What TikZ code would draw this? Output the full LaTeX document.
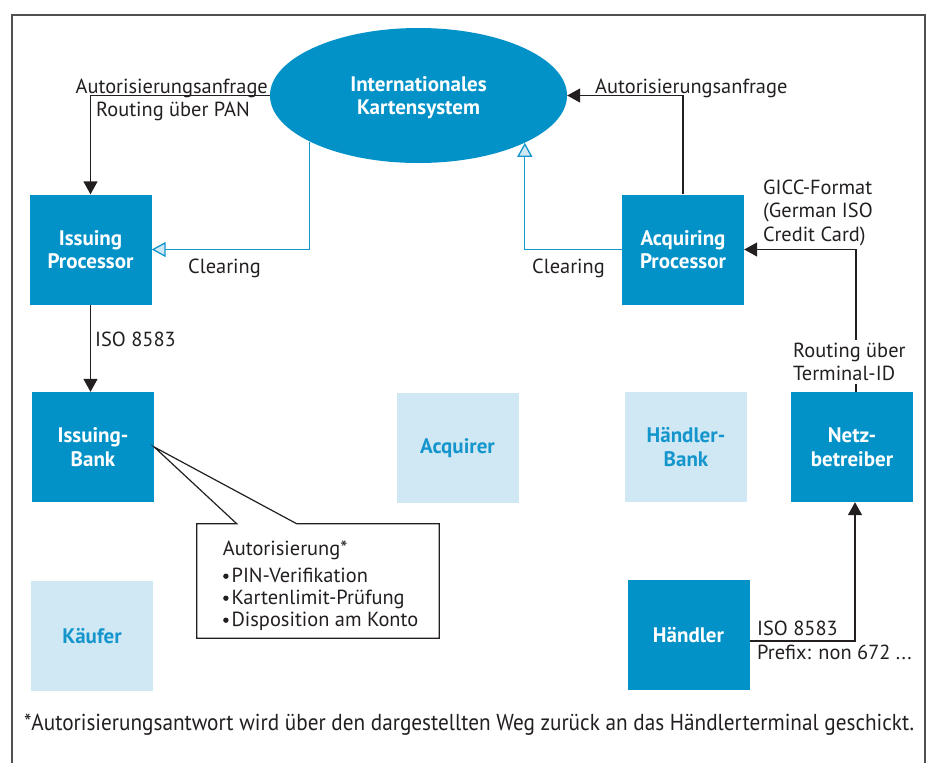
\documentclass[tikz,border=0pt]{standalone}
\usepackage{fontspec}
\setmainfont{PT Sans}
\usetikzlibrary{arrows.meta,calc,backgrounds,shapes.geometric}
\definecolor{dblue}{RGB}{3,146,200}
\definecolor{lblue}{RGB}{208,232,244}
\definecolor{tblue}{RGB}{20,150,205}
\definecolor{framecol}{RGB}{80,80,80}
\definecolor{ink}{RGB}{35,31,32}
\newcommand{\mybul}{\tikz[baseline=-6.5pt,x=1pt,y=1pt]\fill[ink] (0,0) circle (2.7pt);\hspace{3pt}}
\begin{document}
\begin{tikzpicture}[x=1pt,y=-1pt,
  box/.style={rectangle, minimum width=122pt, minimum height=110pt, inner sep=0pt, align=center, font=\fontsize{21}{23.5}\selectfont\bfseries},
  darkbox/.style={box, fill=dblue, text=white},
  lightbox/.style={box, fill=lblue, text=tblue},
  lbl/.style={inner sep=0pt, text=ink, font=\fontsize{20.4}{23.5}\selectfont},
  arr/.style={draw=ink, line width=1.5pt, -{Triangle[width=14pt,length=13pt]}},
  clr/.style={draw=tblue, line width=1.3pt, -{Triangle[open,width=15pt,length=14pt,fill=lblue]}},
]
\useasboundingbox (0,0) rectangle (935,763);
\draw[framecol, line width=1.5pt] (12,790) -- (12,15) -- (925,15) -- (925,790);

% nodes
\node[ellipse, fill=dblue, minimum width=297pt, minimum height=135pt, inner sep=0pt, text=white, align=center, text depth=0pt, font=\fontsize{21}{23.5}\selectfont\bfseries] (KS) at (418.5,95.5) {Internationales\\Kartensystem};
\node[darkbox] (IP) at (90.5,249.5) {Issuing\\Processor};
\node[darkbox] (IB) at (93,447) {Issuing-\\Bank};
\node[lightbox] (K) at (92,636) {Käufer};
\node[lightbox] (AQ) at (457.5,448) {Acquirer};
\node[darkbox] (AP) at (683,249.5) {Acquiring\\Processor};
\node[lightbox] (HB) at (686,447) {Händler-\\Bank};
\node[darkbox] (NB) at (852,447) {Netz-\\betreiber};
\node[darkbox] (H) at (688.5,635) {Händler};

% connectors
\begin{scope}[on background layer]
\draw[clr] (KS.203.8) |- (IP.east);
\end{scope}
\draw[clr] (AP.west) -| (KS.336.2);
\draw[arr] (KS.west) -| (IP.north);
\draw[arr] (AP.north) |- (KS.east);
\draw[arr] (IP.south) -- (IP.south |- IB.north);
\draw[arr] ($(NB.north)+(4,0)$) |- (AP.east);
\draw[arr] ($(H.east)+(0,6)$) -| ($(NB.south)+(3,0)$);

% labels
\node[lbl, anchor=base east] (l1) at (268,93.4) {Autorisierungsanfrage};
\node[lbl, anchor=base west] (l2) at (96,116.6) {Routing über PAN};
\node[lbl, anchor=base west] (l3) at (188,273) {Clearing};
\node[lbl, anchor=base west] (l4) at (595,93.3) {Autorisierungsanfrage};
\node[lbl, anchor=base west] (l5) at (532,273) {Clearing};
\node[lbl, anchor=base west] (l6) at (763,194) {GICC-Format};
\node[lbl, anchor=base west] (l7) at (763,217.7) {(German ISO};
\node[lbl, anchor=base west] (l8) at (763,241.5) {Credit Card)};
\node[lbl, anchor=base west] (l9) at (95,346) {ISO 8583};
\node[lbl, anchor=base west, fill=white, inner ysep=3pt] (l10) at (793,357.3) {Routing über};
\node[lbl, anchor=base west, fill=white, inner ysep=3pt] (l11) at (793,380.7) {Terminal-ID};
\node[lbl, anchor=base west] (l12) at (757,635) {ISO 8583};
\node[lbl, anchor=base west] (l13) at (757,659.3) {Prefix: non 672 ...};

% callout
\node[inner sep=0pt, minimum width=242pt, minimum height=114pt] (CO) at (318,581) {};
\draw[ink, line width=1.2pt, fill=white, line join=miter] (CO.north west) -- ($(CO.north west)+(40,0)$) -- (IB.east) -- ($(CO.north west)+(100,0)$) -- (CO.north east) -- (CO.south east) -- (CO.south west) -- cycle;
\node[lbl, anchor=base west] (c0) at (222.7,555) {Autorisierung*};
\node[lbl, anchor=base west, align=left, font=\fontsize{20.4}{22}\selectfont] (c1) at (223,626.7) {\mybul PIN-Verifikation\\\mybul Kartenlimit-Prüfung\\\mybul Disposition am Konto};

% footnote
\node[lbl, anchor=base west] (fn) at (24,730.8) {\resizebox{890pt}{16.5pt}{*Autorisierungsantwort wird über den dargestellten Weg zurück an das Händlerterminal geschickt.}};
\end{tikzpicture}
\end{document}
